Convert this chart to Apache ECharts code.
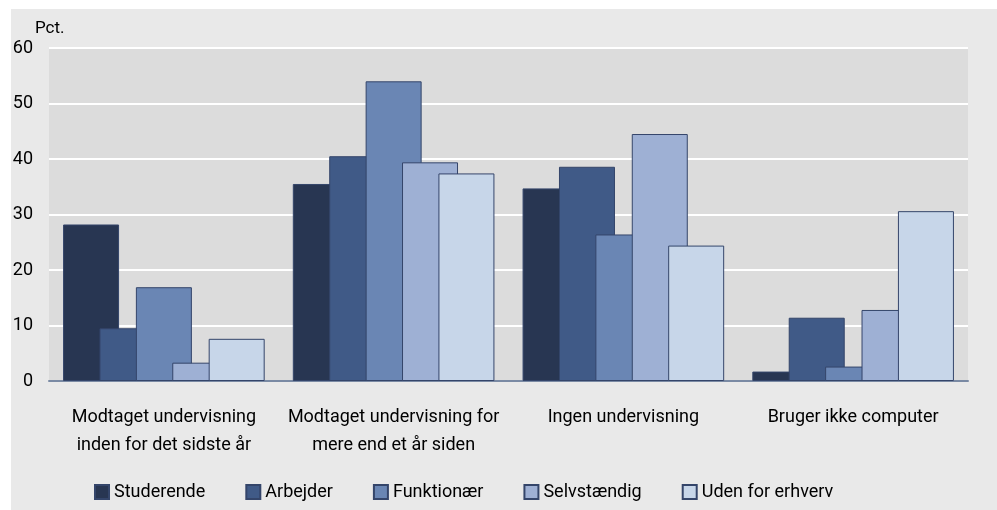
<!DOCTYPE html>
<html>
<head>
<meta charset="utf-8">
<script src="https://cdn.jsdelivr.net/npm/echarts@6/dist/echarts.min.js"></script>
<style>
  html, body { margin: 0; padding: 0; background: #fff; }
  #chart { width: 997px; height: 510px; }
</style>
</head>
<body>
<div id="chart"></div>
<script>
// categories on the x axis
const categories = [
  'Modtaget undervisning\ninden for det sidste år',
  'Modtaget undervisning for\nmere end et år siden',
  'Ingen undervisning',
  'Bruger ikke computer'
];
// series (pct.)
const seriesNames = ['Studerende', 'Arbejder', 'Funktionær', 'Selvstændig', 'Uden for erhverv'];
const studerende = [28.2, 35.5, 34.7, 1.7];
const arbejder = [9.5, 40.5, 38.6, 11.4];
const funktionaer = [16.9, 54.0, 26.4, 2.6];
const selvstaendig = [3.3, 39.4, 44.5, 12.8];
const udenForErhverv = [7.6, 37.4, 24.4, 30.6];
const colors = ['#283652', '#405a87', '#6a86b4', '#9eb0d4', '#c7d6e9'];

const font = 'Roboto';
const chart = echarts.init(document.getElementById('chart'));

const values = [studerende, arbejder, funktionaer, selvstaendig, udenForErhverv];

chart.setOption({
  animation: false,
  textStyle: { fontFamily: font },
  graphic: [
    { type: 'rect', left: 11, top: 9, z: -10, shape: { width: 986, height: 501 }, style: { fill: '#e9e9e9' } },
    { type: 'text', left: 35, top: 20, style: { text: 'Pct.', font: '17px Roboto', fill: '#000' } }
  ],
  grid: {
    left: 49, right: 29, top: 48, bottom: 129,
    show: true, backgroundColor: '#dcdcdc', borderWidth: 0
  },
  legend: {
    left: 94, top: 483, padding: 0,
    itemWidth: 14, itemHeight: 14, itemGap: 40,
    icon: 'rect',
    textStyle: { fontSize: 18, color: '#000', fontFamily: font },
    data: seriesNames
  },
  xAxis: {
    type: 'category',
    data: categories,
    axisLine: { lineStyle: { color: '#7a8aa4', width: 2 } },
    axisTick: { show: false },
    axisLabel: { fontSize: 18, color: '#000', margin: 22, lineHeight: 28, interval: 0 }
  },
  yAxis: {
    type: 'value',
    min: 0, max: 60, interval: 10,
    axisLine: { show: false },
    axisTick: { show: false },
    axisLabel: { fontSize: 18, color: '#000', margin: 16 },
    splitLine: { lineStyle: { color: '#ffffff', width: 2 } }
  },
  series: seriesNames.map((name, i) => ({
    name: name,
    type: 'bar',
    data: values[i],
    barWidth: 56,
    barGap: '-35%',
    itemStyle: { color: colors[i], borderColor: '#34456a', borderWidth: 1 }
  }))
});
</script>
</body>
</html>
